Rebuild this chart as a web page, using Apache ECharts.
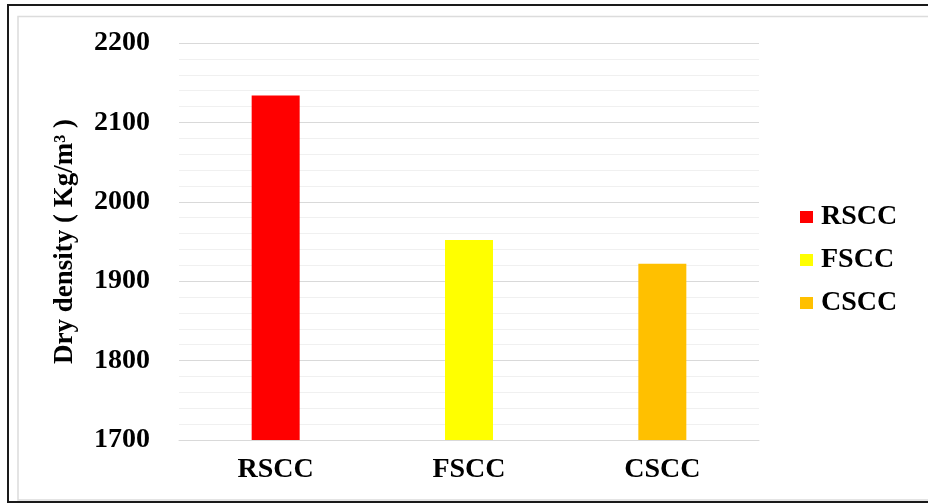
<!DOCTYPE html>
<html>
<head>
<meta charset="utf-8">
<script src="https://cdn.jsdelivr.net/npm/echarts@6/dist/echarts.min.js"></script>
<style>
  html, body { margin: 0; padding: 0; background: #ffffff; }
  #chart { width: 928px; height: 504px; }
</style>
</head>
<body>
<div id="chart"></div>
<script>
// Mixes and their measured dry densities (kg/m3)
const categories = ['RSCC', 'FSCC', 'CSCC'];
const dryDensity = [2134, 1952, 1922];
const barColors = ['#ff0000', '#ffff00', '#ffc000'];
const yTicks = { min: 1700, max: 2200, step: 100 };
const yTitle = 'Dry density ( Kg/m³ )';

const FONT = '"Liberation Serif", "Times New Roman", serif';

// One series per mix so each shows in the legend; stacking keeps bars centred.
const series = categories.map((name, i) => ({
  name: name,
  type: 'bar',
  stack: 'mix',
  barWidth: 48,
  itemStyle: { color: barColors[i] },
  data: categories.map((_, j) => (j === i ? dryDensity[i] : '-'))
}));

const chart = echarts.init(document.getElementById('chart'), null, { renderer: 'canvas' });
chart.setOption({
  backgroundColor: '#ffffff',
  animation: false,
  graphic: [
    { type: 'rect', z: -10, silent: true,
      shape: { x: 8, y: 5, width: 930, height: 497 },
      style: { fill: 'none', stroke: '#1a1a1a', lineWidth: 2 } },
    { type: 'rect', z: -10, silent: true,
      shape: { x: 18, y: 16.5, width: 920, height: 483.5 },
      style: { fill: 'none', stroke: '#dcdcdc', lineWidth: 1.5 } }
  ],
  legend: {
    orient: 'vertical',
    left: 795,
    top: 198,
    itemWidth: 13,
    itemHeight: 12,
    itemGap: 15,
    icon: 'rect',
    textStyle: { fontFamily: FONT, fontWeight: 'bold', fontSize: 28, color: '#000', padding: [0, 0, 0, 3] },
    data: categories
  },
  grid: { left: 179, right: 169, top: 43, bottom: 64, containLabel: false },
  xAxis: {
    type: 'category',
    data: categories,
    axisLine: { show: true, lineStyle: { color: '#d9d9d9', width: 1 } },
    axisTick: { show: false },
    axisLabel: { fontFamily: FONT, fontWeight: 'bold', fontSize: 28, color: '#000', margin: 16 }
  },
  yAxis: {
    type: 'value',
    min: yTicks.min,
    max: yTicks.max,
    interval: yTicks.step,
    name: yTitle,
    nameLocation: 'middle',
    nameRotate: 90,
    nameGap: 100,
    nameTextStyle: { fontFamily: FONT, fontWeight: 'bold', fontSize: 27, color: '#000' },
    axisLine: { show: false },
    axisTick: { show: false },
    axisLabel: {
      fontFamily: FONT, fontWeight: 'bold', fontSize: 28, color: '#000', margin: 29,
      formatter: (v) => String(v)
    },
    splitLine: { show: true, lineStyle: { color: '#d9d9d9', width: 1 } },
    minorTick: { show: false, splitNumber: 5 },
    minorSplitLine: { show: true, lineStyle: { color: '#f0f0f0', width: 1 } }
  },
  series: series
});
</script>
</body>
</html>
